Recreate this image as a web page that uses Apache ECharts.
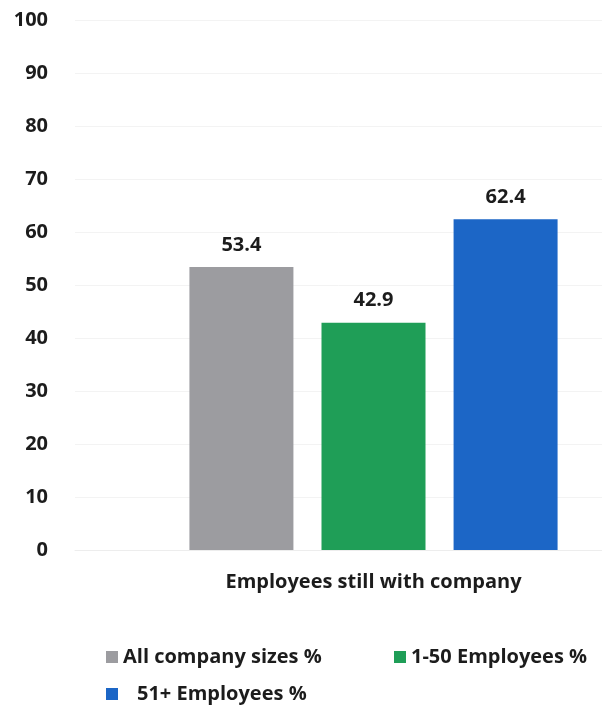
<!DOCTYPE html>
<html>
<head>
<meta charset="utf-8">
<script src="https://cdn.jsdelivr.net/npm/echarts@6/dist/echarts.min.js"></script>
<style>
  html, body { margin: 0; padding: 0; background: #ffffff; }
  #chart { width: 602px; height: 706px; }
</style>
</head>
<body>
<div id="chart"></div>
<script>
const categories = ['Employees still with company'];
const seriesNames = ['All company sizes %', '1-50 Employees %', '51+ Employees %'];
const allSizes = [53.4];
const small = [42.9];
const large = [62.4];
const yTicks = [0, 10, 20, 30, 40, 50, 60, 70, 80, 90, 100];

const colors = ['#9c9ca0', '#1f9e57', '#1c66c6'];
const font = '"Open Sans", "Noto Sans", sans-serif';
const ink = '#1c1c1c';

const chart = echarts.init(document.getElementById('chart'), null, { renderer: 'canvas' });

function barSeries(name, data, color) {
  return {
    name: name,
    type: 'bar',
    xAxisIndex: 1,
    yAxisIndex: 1,
    data: data,
    barWidth: 104,
    barGap: '27%',
    itemStyle: { color: color },
    label: {
      show: true,
      position: 'top',
      distance: 12,
      color: ink,
      fontFamily: font,
      fontWeight: 700,
      fontSize: 20,
      formatter: p => p.value.toFixed(1)
    }
  };
}

function legendBox(name, left, top, extraPad) {
  return {
    data: [name],
    left: left,
    top: top,
    padding: 0,
    icon: 'rect',
    itemWidth: 12,
    itemHeight: 12,
    itemGap: 0,
    textStyle: {
      color: ink,
      fontFamily: font,
      fontWeight: 700,
      fontSize: 20,
      padding: [0, 0, 0, extraPad]
    }
  };
}

chart.setOption({
  animation: false,
  backgroundColor: '#ffffff',
  grid: [
    // full-width plot frame: value ticks, faint gridlines and baseline
    { left: 75, right: 0, top: 20, bottom: 156 },
    // bar area, centred under the category label
    { left: 145, right: 0, top: 20, bottom: 156 }
  ],
  xAxis: [
    {
      gridIndex: 0,
      type: 'category',
      data: [''],
      axisLine: { show: true, lineStyle: { color: '#ededed' } },
      axisTick: { show: false },
      axisLabel: { show: false }
    },
    {
      gridIndex: 1,
      type: 'category',
      data: categories,
      axisLine: { show: false },
      axisTick: { show: false },
      axisLabel: {
        margin: 22,
        color: ink,
        fontFamily: font,
        fontWeight: 700,
        fontSize: 20
      }
    }
  ],
  yAxis: [
    {
      gridIndex: 0,
      type: 'value',
      min: yTicks[0],
      max: yTicks[yTicks.length - 1],
      interval: 10,
      axisLine: { show: false },
      axisTick: { show: false },
      splitLine: { lineStyle: { color: '#f3f3f3' } },
      axisLabel: {
        margin: 27,
        color: ink,
        fontFamily: font,
        fontWeight: 700,
        fontSize: 20
      }
    },
    {
      gridIndex: 1,
      type: 'value',
      min: yTicks[0],
      max: yTicks[yTicks.length - 1],
      interval: 10,
      show: false,
      splitLine: { show: false }
    }
  ],
  legend: [
    legendBox(seriesNames[0], 106, 647, 0),
    legendBox(seriesNames[1], 394, 647, 0),
    legendBox(seriesNames[2], 106, 684, 14)
  ],
  series: [
    barSeries(seriesNames[0], allSizes, colors[0]),
    barSeries(seriesNames[1], small, colors[1]),
    barSeries(seriesNames[2], large, colors[2])
  ]
});
</script>
</body>
</html>
